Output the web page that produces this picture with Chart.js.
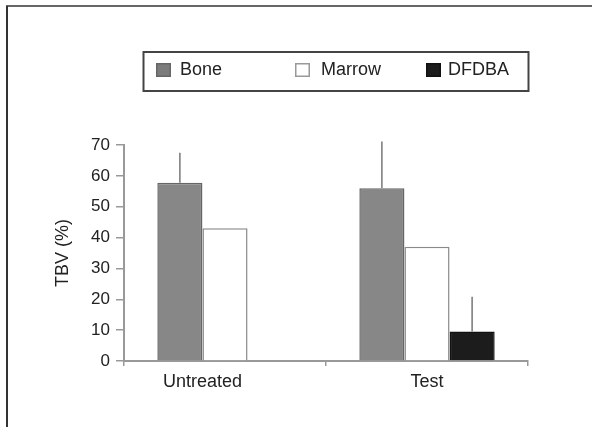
<!DOCTYPE html>
<html>
<head>
<meta charset="utf-8">
<script src="https://cdn.jsdelivr.net/npm/chart.js@4/dist/chart.umd.min.js"></script>
<style>
  html, body { margin: 0; padding: 0; background: #fff; }
  #wrap { position: absolute; left: 0; top: 0; width: 592px; height: 427px; }
</style>
</head>
<body>
<div id="wrap"><canvas id="tbvChart"></canvas></div>
<script>
const categories = ['Untreated', 'Test'];
const seriesNames = ['Bone', 'Marrow', 'DFDBA'];
const boneValues = [57.8, 56];
const boneErrors = [9.7, 15.1];
const marrowValues = [43, 37];
const marrowErrors = [null, null];
const dfdbaValues = [null, 9.6];
const dfdbaErrors = [null, 11.2];
const yTicks = [0, 10, 20, 30, 40, 50, 60, 70];

const FONT = '"Liberation Sans", Arial, sans-serif';
const errorSets = [boneErrors, marrowErrors, dfdbaErrors];

// outer frame, legend box, error lines and category labels
const extras = {
  id: 'extras',
  afterDatasetsDraw(chart) {
    const ctx = chart.ctx;
    const y = chart.scales.y;
    ctx.save();
    ctx.strokeStyle = '#777';
    ctx.lineWidth = 1.5;
    chart.data.datasets.forEach((ds, i) => {
      const meta = chart.getDatasetMeta(i);
      meta.data.forEach((bar, j) => {
        const err = errorSets[i][j];
        if (err == null || ds.data[j] == null) return;
        ctx.beginPath();
        ctx.moveTo(bar.x, bar.y);
        ctx.lineTo(bar.x, y.getPixelForValue(ds.data[j] + err));
        ctx.stroke();
      });
    });
    ctx.restore();
  },
  afterDraw(chart) {
    const ctx = chart.ctx;
    ctx.save();

    // frame
    ctx.lineWidth = 2;
    ctx.strokeStyle = '#666';
    ctx.beginPath(); ctx.moveTo(6, 6); ctx.lineTo(592, 6); ctx.stroke();
    ctx.strokeStyle = '#333';
    ctx.beginPath(); ctx.moveTo(7, 6); ctx.lineTo(7, 427); ctx.stroke();

    // legend
    ctx.strokeStyle = '#444';
    ctx.strokeRect(143.5, 52, 385, 39);
    const itemX = [156, 295, 426];
    const textX = [180, 321, 448];
    ctx.font = '18px ' + FONT;
    ctx.textBaseline = 'middle';
    chart.data.datasets.forEach((ds, i) => {
      ctx.fillStyle = ds.legendFill;
      ctx.fillRect(itemX[i], 63, 15, 14);
      ctx.lineWidth = 1.5;
      ctx.strokeStyle = ds.legendStroke;
      ctx.strokeRect(itemX[i] + 0.75, 63.75, 13.5, 12.5);
      ctx.fillStyle = '#222';
      ctx.fillText(ds.label, textX[i], 70);
    });

    // category labels centred under the bars drawn
    ctx.textAlign = 'center';
    categories.forEach((cat, j) => {
      let lo = Infinity, hi = -Infinity;
      chart.data.datasets.forEach((ds, i) => {
        if (ds.data[j] == null) return;
        const bar = chart.getDatasetMeta(i).data[j];
        lo = Math.min(lo, bar.x - bar.width / 2);
        hi = Math.max(hi, bar.x + bar.width / 2);
      });
      ctx.fillText(cat, (lo + hi) / 2, 382);
    });
    ctx.restore();
  }
};

const ctx = document.getElementById('tbvChart').getContext('2d');

const tbvChart = new Chart(ctx, {
  type: 'bar',
  data: {
    labels: categories,
    datasets: [
      {
        label: seriesNames[0],
        data: boneValues,
        backgroundColor: '#878787',
        borderColor: '#666',
        borderWidth: 1.5,
        legendFill: '#7c7c7c',
        legendStroke: '#666'
      },
      {
        label: seriesNames[1],
        data: marrowValues,
        backgroundColor: '#fff',
        borderColor: '#8a8a8a',
        borderWidth: 1.5,
        legendFill: '#fff',
        legendStroke: '#999'
      },
      {
        label: seriesNames[2],
        data: dfdbaValues,
        backgroundColor: '#1c1c1c',
        borderColor: '#111',
        borderWidth: 1.5,
        legendFill: '#1c1c1c',
        legendStroke: '#111'
      }
    ]
  },
  options: {
    responsive: true,
    maintainAspectRatio: false,
    animation: false,
    layout: {
      padding: { left: 48, top: 145, right: 64, bottom: 0 }
    },
    categoryPercentage: 0.67,
    barPercentage: 1.0,
    scales: {
      x: {
        grid: {
          offset: true,
          drawOnChartArea: false,
          drawTicks: true,
          tickLength: 5,
          color: '#999',
          lineWidth: 1.5
        },
        border: { color: '#999', width: 2 },
        ticks: { display: false },
        afterFit: function (scale) { scale.height = 66; }
      },
      y: {
        min: 0,
        max: 70,
        afterBuildTicks: function (scale) {
          scale.ticks = yTicks.map(v => ({ value: v }));
        },
        grid: {
          drawOnChartArea: false,
          drawTicks: true,
          tickLength: 8,
          color: '#999',
          lineWidth: 1.5
        },
        border: { color: '#999', width: 2 },
        ticks: {
          color: '#222',
          padding: 6,
          font: { family: FONT, size: 17 }
        },
        title: {
          display: true,
          text: 'TBV (%)',
          color: '#222',
          font: { family: FONT, size: 18 }
        },
        afterFit: function (scale) { scale.width = 76; }
      }
    },
    plugins: {
      legend: { display: false },
      tooltip: { enabled: false }
    }
  },
  plugins: [extras]
});
</script>
</body>
</html>
